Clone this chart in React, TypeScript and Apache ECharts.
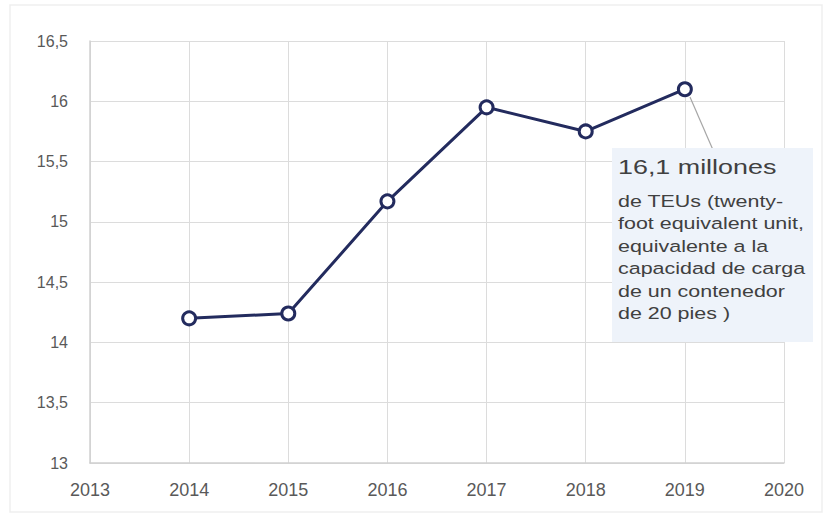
import React, { useEffect, useRef } from "react";
import * as echarts from "echarts";

const years = [2014, 2015, 2016, 2017, 2018, 2019];
const teus = [14.2, 14.24, 15.17, 15.95, 15.75, 16.1];
const annotationTitle = "16,1 millones";
const annotationLines = [
  "de TEUs (twenty-",
  "foot equivalent unit,",
  "equivalente a la",
  "capacidad de carga",
  "de un contenedor",
  "de 20 pies )",
];

export default function App() {
  const ref = useRef<HTMLDivElement>(null);
  useEffect(() => {
    if (!ref.current) return;
    const chart = echarts.init(ref.current, undefined, { renderer: "svg" });
    const font = "'Liberation Sans', Arial, sans-serif";
    chart.setOption({
      animation: false,
      backgroundColor: "#ffffff",
      grid: { left: 90, right: 48, top: 41, bottom: 61 },
      xAxis: {
        type: "value",
        min: 2013,
        max: 2020,
        interval: 1,
        axisLine: { show: true, lineStyle: { color: "#d0d0d0", width: 1.5 } },
        axisTick: { show: false },
        splitLine: { show: true, lineStyle: { color: "#dcdcdc", width: 1 } },
        axisLabel: {
          color: "#595959",
          fontSize: 18,
          fontFamily: font,
          margin: 18,
          formatter: (v: number) => String(v),
        },
      },
      yAxis: {
        type: "value",
        min: 13,
        max: 16.5,
        interval: 0.5,
        axisLine: { show: true, lineStyle: { color: "#d0d0d0", width: 1.5 } },
        axisTick: { show: false },
        splitLine: { show: true, lineStyle: { color: "#dcdcdc", width: 1 } },
        axisLabel: {
          color: "#595959",
          fontSize: 16,
          fontFamily: font,
          margin: 22,
          formatter: (v: number) => String(v).replace(".", ","),
        },
      },
      series: [
        {
          type: "line",
          data: years.map((y, i) => [y, teus[i]]),
          lineStyle: { color: "#232b5e", width: 3 },
          symbol: "circle",
          symbolSize: 13,
          itemStyle: { color: "#ffffff", borderColor: "#232b5e", borderWidth: 3 },
          z: 5,
        },
      ],
      graphic: [
        {
          type: "rect",
          shape: { x: 10, y: 5, width: 812, height: 507 },
          style: { fill: "none", stroke: "#efefef", lineWidth: 1.5 },
          silent: true,
        },
        {
          type: "line",
          shape: { x1: 690, y1: 97, x2: 713, y2: 150 },
          style: { stroke: "#a6a6a6", lineWidth: 1.2 },
          z: 1,
        },
        {
          type: "rect",
          shape: { x: 612, y: 148, width: 201, height: 194 },
          style: { fill: "#eef3fa" },
          z: 2,
        },
        {
          type: "text",
          x: 618,
          y: 156,
          scaleX: 1.28,
          style: {
            text: annotationTitle,
            fill: "#404040",
            font: `21px ${font}`,
          },
          z: 3,
        },
        {
          type: "text",
          x: 618,
          y: 190,
          scaleX: 1.3,
          style: {
            text: annotationLines.join("\n"),
            fill: "#404040",
            font: `16.5px ${font}`,
            lineHeight: 22.5,
          },
          z: 3,
        },
      ],
    });
    return () => chart.dispose();
  }, []);
  return (
    <div
      ref={ref}
      style={{ position: "absolute", left: 0, top: 0, width: 832, height: 524 }}
    />
  );
}
